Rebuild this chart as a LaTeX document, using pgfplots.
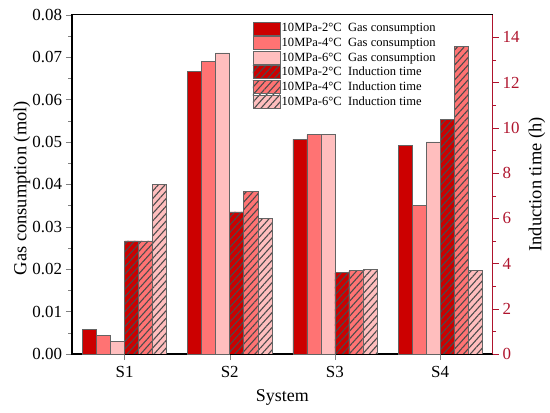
\documentclass[border=0pt]{standalone}
\usepackage{pgfplots}
\pgfplotsset{compat=1.18}
\usetikzlibrary{patterns.meta}
\usepackage{fontspec}
\setmainfont{Liberation Serif}
\definecolor{cA}{RGB}{204,0,0}
\definecolor{cB}{RGB}{255,115,115}
\definecolor{cC}{RGB}{255,190,190}
\definecolor{edge}{RGB}{100,100,100}
\definecolor{hatch}{RGB}{75,75,75}
\definecolor{raxis}{RGB}{175,20,45}
\tikzset{hatchy/.style={postaction={pattern={Lines[angle=48,distance=5bp,line width=1.1bp]}, pattern color=hatch}}}
\begin{document}
\begin{tikzpicture}
\pgfplotsset{
  every axis/.append style={
    scale only axis, width=420.7bp, height=339.3bp,
    xmin=0.5, xmax=4.5,
    /pgf/number format/assume math mode=true,
    tick label style={font=\fontsize{17}{20}\selectfont},
    line width=1.1bp,
    major tick length=6bp, minor tick length=3.5bp,
    tick align=outside,
  }
}
\begin{axis}[
  ymin=0, ymax=0.08,
  ytick={0,0.01,0.02,0.03,0.04,0.05,0.06,0.07,0.08},
  minor y tick num=1,
  scaled y ticks=false,
  yticklabel style={/pgf/number format/.cd, fixed, fixed zerofill, precision=2},
  xtick={1,2,3,4}, xticklabels={S1,S2,S3,S4},
  tick pos=left,
  xlabel={System},
  ylabel={Gas consumption (mol)},
  every axis y label/.style={at={(axis description cs:-0.119,0.489)}, rotate=90, anchor=center, font=\fontsize{18.5}{21}\selectfont},
  every axis x label/.style={at={(axis description cs:0.5,-0.127)}, anchor=center, font=\fontsize{18}{21}\selectfont},
  xticklabel style={yshift=-2bp},
]
\addplot[ybar, bar width=0.1333, bar shift=-0.3333, fill=cA, draw=edge, line width=0.6bp] coordinates {(1,0.0058) (2,0.0666) (3,0.0506) (4,0.0491)};
\addplot[ybar, bar width=0.1333, bar shift=-0.2, fill=cB, draw=edge, line width=0.6bp] coordinates {(1,0.0043) (2,0.0689) (3,0.0517) (4,0.0351)};
\addplot[ybar, bar width=0.1333, bar shift=-0.0667, fill=cC, draw=edge, line width=0.6bp] coordinates {(1,0.0029) (2,0.0710) (3,0.0517) (4,0.0500)};
\end{axis}
\begin{axis}[
  ymin=0, ymax=15,
  ytick={0,2,4,6,8,10,12,14},
  minor y tick num=1,
  axis x line=none,
  axis y line*=right,
  y axis line style={draw=raxis},
  ytick style={draw=raxis},
  minor y tick style={draw=raxis},
  yticklabel style={text=raxis},
  ylabel={Induction time (h)},
  every axis y label/.style={at={(axis description cs:1.105,0.5)}, rotate=90, anchor=center, font=\fontsize{18.5}{21}\selectfont},
  legend image code/.code={\draw[#1] (0bp,-6.5bp) rectangle (27bp,6.5bp);},
  legend style={at={(axis description cs:0.428,0.981)}, anchor=north west, draw=none, fill=none,
    font=\fontsize{12.6}{14}\selectfont, row sep=1.0bp, inner sep=0pt,
    nodes={inner sep=1.5bp}},
  legend cell align=left,
]
\addlegendimage{fill=cA, draw=edge, line width=0.6bp}
\addlegendentry{10MPa-2°C\ \ Gas consumption}
\addlegendimage{fill=cB, draw=edge, line width=0.6bp}
\addlegendentry{10MPa-4°C\ \ Gas consumption}
\addlegendimage{fill=cC, draw=edge, line width=0.6bp}
\addlegendentry{10MPa-6°C\ \ Gas consumption}
\addlegendimage{fill=cA, draw=edge, line width=0.6bp, hatchy}
\addlegendentry{10MPa-2°C\ \ Induction time}
\addlegendimage{fill=cB, draw=edge, line width=0.6bp, hatchy}
\addlegendentry{10MPa-4°C\ \ Induction time}
\addlegendimage{fill=cC, draw=edge, line width=0.6bp, hatchy}
\addlegendentry{10MPa-6°C\ \ Induction time}
\addplot[ybar, forget plot, bar width=0.1333, bar shift=0.0667, fill=cA, draw=edge, line width=0.6bp, hatchy] coordinates {(1,5.0) (2,6.28) (3,3.59) (4,10.38)};
\addplot[ybar, forget plot, bar width=0.1333, bar shift=0.2, fill=cB, draw=edge, line width=0.6bp, hatchy] coordinates {(1,5.0) (2,7.19) (3,3.68) (4,13.59)};
\addplot[ybar, forget plot, bar width=0.1333, bar shift=0.3333, fill=cC, draw=edge, line width=0.6bp, hatchy] coordinates {(1,7.5) (2,6.00) (3,3.74) (4,3.68)};
\end{axis}
\path (-72bp,-59bp) rectangle (478bp,354bp);
\end{tikzpicture}
\end{document}
